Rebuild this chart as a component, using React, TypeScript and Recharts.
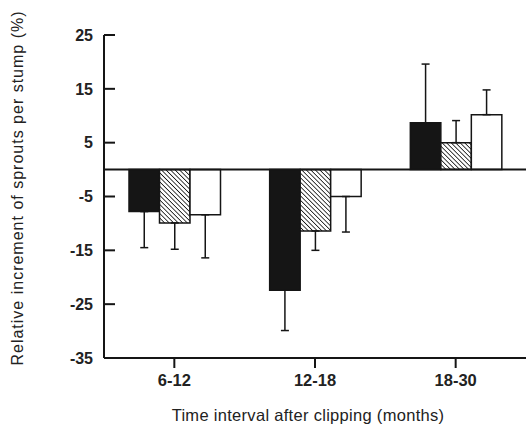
import { BarChart, Bar, XAxis, YAxis, ErrorBar, ReferenceLine } from 'recharts';

const CATEGORIES = ['6-12', '12-18', '18-30'];
const BLACK = [-7.8, -22.4, 8.7];
const BLACK_ERR = [6.7, 7.5, 10.9];
const HATCHED = [-9.9, -11.4, 5.0];
const HATCHED_ERR = [4.9, 3.6, 4.1];
const OPEN = [-8.4, -5.0, 10.2];
const OPEN_ERR = [8.0, 6.6, 4.6];
const Y_TICKS = [25, 15, 5, -5, -15, -25, -35];

const FONT = '"Liberation Sans", Arial, Helvetica, sans-serif';
const INK = '#151515';

// error bars only point away from zero
const oneSided = (v: number, e: number) => (v < 0 ? [e, 0] : [0, e]);

const data = CATEGORIES.map((name, i) => ({
  name,
  black: BLACK[i],
  blackErr: oneSided(BLACK[i], BLACK_ERR[i]),
  hatched: HATCHED[i],
  hatchedErr: oneSided(HATCHED[i], HATCHED_ERR[i]),
  open: OPEN[i],
  openErr: oneSided(OPEN[i], OPEN_ERR[i]),
}));

const YTitle = () => (
  <text
    x={19}
    y={188}
    transform="rotate(-90, 19, 188)"
    textAnchor="middle"
    dominantBaseline="middle"
    fontFamily={FONT}
    fontSize={16}
    letterSpacing={1}
    fill="#222"
  >
    Relative increment of sprouts per stump (%)
  </text>
);

const XTitle = () => (
  <text
    x={308}
    y={421}
    textAnchor="middle"
    fontFamily={FONT}
    fontSize={16.5}
    letterSpacing={0.3}
    fill="#222"
  >
    Time interval after clipping (months)
  </text>
);

export default function App() {
  return (
    <div style={{ position: 'absolute', left: 0, top: 0, background: '#fff' }}>
      <BarChart
        width={526}
        height={425}
        data={data}
        margin={{ top: 35, right: 0, bottom: 0, left: 0 }}
        barGap={0}
        barSize={30.5}
      >
        <defs>
          <pattern id="hatch" patternUnits="userSpaceOnUse" width={3.2} height={3.2} patternTransform="rotate(-45)">
            <rect width={3.2} height={3.2} fill="#fff" />
            <line x1={0} y1={0} x2={0} y2={3.2} stroke={INK} strokeWidth={1.6} />
          </pattern>
        </defs>
        <XAxis
          dataKey="name"
          height={67}
          interval={0}
          tickSize={10}
          tickMargin={6}
          axisLine={{ stroke: INK, strokeWidth: 2 }}
          tickLine={{ stroke: INK, strokeWidth: 2 }}
          tick={{ fill: '#222', fontSize: 16.5, fontWeight: 'bold', fontFamily: FONT }}
          label={<XTitle />}
        />
        <YAxis
          type="number"
          domain={[-35, 25]}
          ticks={Y_TICKS}
          interval={0}
          width={104}
          tickSize={-11}
          tickMargin={22}
          axisLine={{ stroke: INK, strokeWidth: 2 }}
          tickLine={{ stroke: INK, strokeWidth: 2 }}
          tick={{ fill: '#222', fontSize: 16, fontWeight: 'bold', fontFamily: FONT }}
          label={<YTitle />}
        />
        <ReferenceLine y={0} stroke={INK} strokeWidth={2} />
        <Bar dataKey="black" fill={INK} stroke={INK} strokeWidth={1.5} isAnimationActive={false}>
          <ErrorBar dataKey="blackErr" width={4} stroke={INK} strokeWidth={1.5} isAnimationActive={false} />
        </Bar>
        <Bar dataKey="hatched" fill="url(#hatch)" stroke={INK} strokeWidth={1.5} isAnimationActive={false}>
          <ErrorBar dataKey="hatchedErr" width={4} stroke={INK} strokeWidth={1.5} isAnimationActive={false} />
        </Bar>
        <Bar dataKey="open" fill="#fff" stroke={INK} strokeWidth={1.5} isAnimationActive={false}>
          <ErrorBar dataKey="openErr" width={4} stroke={INK} strokeWidth={1.5} isAnimationActive={false} />
        </Bar>
      </BarChart>
    </div>
  );
}
